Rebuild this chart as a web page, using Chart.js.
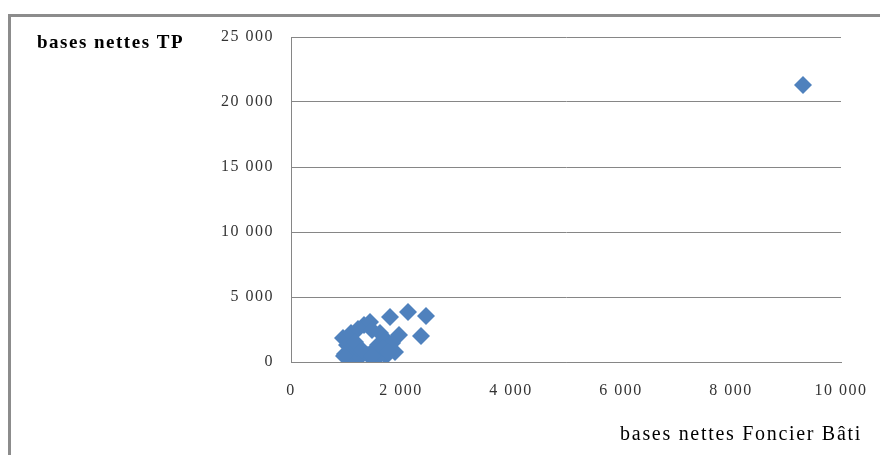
<!DOCTYPE html>
<html>
<head>
<meta charset="utf-8">
<script src="https://cdn.jsdelivr.net/npm/chart.js@4/dist/chart.umd.min.js"></script>
<style>
  html, body { margin: 0; padding: 0; background: #fff; }
  #wrap { position: relative; width: 880px; height: 455px; }
</style>
</head>
<body>
<div id="wrap">
  <canvas id="myChart" width="880" height="455"></canvas>
</div>
<script>
// bases nettes Foncier Bâti (x) et bases nettes TP (y)
const baseFB = [945, 1018, 1091, 1218, 1327, 1436, 1073, 982, 1109, 1255, 1400, 1200,
  1509, 1582, 1618, 1727, 1800, 2127, 2455, 2364, 1964, 1891, 1727, 1564, 1836, 1473,
  1164, 1291, 1473, 1673, 1764, 964, 9309];
const baseTP = [1846, 1308, 2231, 2538, 2846, 3077, 923, 615, 308, 385, 538, 1077,
  923, 1308, 2231, 1692, 3461, 3846, 3538, 2000, 2077, 769, 462, 308, 1462, 2462,
  1538, 923, 462, 1077, 769, 462, 21308];

const xTicks = [0, 2000, 4000, 6000, 8000, 10000];
const yTicks = [0, 5000, 10000, 15000, 20000, 25000];

const yTitle = 'bases nettes TP';
const xTitle = 'bases nettes Foncier Bâti';

const points = baseFB.map((x, i) => ({ x: x, y: baseTP[i] }));

function fmt(v) {
  return String(v).replace(/\B(?=(\d{3})+(?!\d))/g, ' ');
}

const frameAndTitles = {
  id: 'frameAndTitles',
  beforeDraw(chart) {
    chart.ctx.letterSpacing = '1.5px';
  },
  afterDraw(chart) {
    const ctx = chart.ctx;
    ctx.save();
    // cadre gris (haut et gauche)
    ctx.strokeStyle = '#8c8c8c';
    ctx.lineWidth = 3;
    ctx.beginPath();
    ctx.moveTo(9.5, 455);
    ctx.lineTo(9.5, 15.5);
    ctx.lineTo(880, 15.5);
    ctx.stroke();
    // titres des axes
    ctx.fillStyle = '#000';
    ctx.textBaseline = 'alphabetic';
    ctx.letterSpacing = '1.5px';
    ctx.font = 'bold 19px "Liberation Serif"';
    ctx.textAlign = 'left';
    ctx.fillText(yTitle, 37, 48);
    ctx.letterSpacing = '1.7px';
    ctx.font = '20px "Liberation Serif"';
    ctx.textAlign = 'right';
    ctx.fillText(xTitle, 862, 440);
    ctx.restore();
  }
};

new Chart(document.getElementById('myChart'), {
  type: 'scatter',
  data: {
    datasets: [{
      data: points,
      pointStyle: 'rectRot',
      pointRadius: 9,
      pointHoverRadius: 9,
      backgroundColor: '#4F81BD',
      borderColor: '#4F81BD',
      borderWidth: 0
    }]
  },
  options: {
    responsive: false,
    animation: false,
    layout: { padding: { top: 37, right: 39, left: 0, bottom: 0 } },
    plugins: { legend: { display: false }, tooltip: { enabled: false } },
    scales: {
      x: {
        type: 'linear',
        min: 0,
        max: 10000,
        afterBuildTicks: (s) => { s.ticks = xTicks.map(v => ({ value: v })); },
        afterFit: (s) => { s.height = 93; s.paddingLeft = 0; s.paddingRight = 0; },
        grid: { display: false, drawTicks: false },
        border: { color: '#868686', width: 1 },
        ticks: {
          padding: 19,
          color: '#333333',
          font: { family: '"Liberation Serif"', size: 16 },
          callback: (v) => fmt(v)
        }
      },
      y: {
        type: 'linear',
        min: 0,
        max: 25000,
        afterBuildTicks: (s) => { s.ticks = yTicks.map(v => ({ value: v })); },
        afterFit: (s) => { s.width = 291; s.paddingTop = 0; s.paddingBottom = 0; },
        grid: { color: '#868686', drawTicks: false },
        border: { color: '#868686', width: 1 },
        ticks: {
          padding: 17,
          color: '#333333',
          font: { family: '"Liberation Serif"', size: 16 },
          callback: (v) => fmt(v)
        }
      }
    }
  },
  plugins: [frameAndTitles]
});
</script>
</body>
</html>
